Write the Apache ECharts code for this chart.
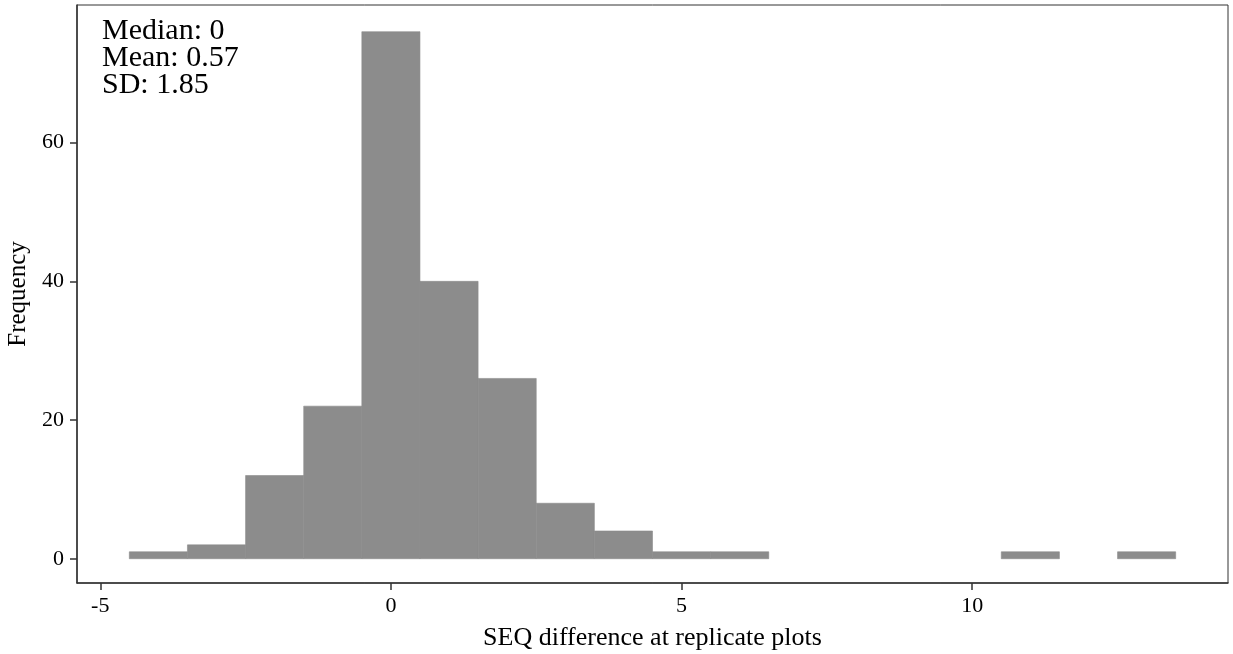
<!DOCTYPE html>
<html>
<head>
<meta charset="utf-8">
<script src="https://cdn.jsdelivr.net/npm/echarts@6/dist/echarts.min.js"></script>
<style>
html,body{margin:0;padding:0;background:#fff;}
#chart{width:1233px;height:654px;}
</style>
</head>
<body>
<div id="chart"></div>
<script>
// Histogram bin centers (bin width 1) and counts
const binCenters = [-4, -3, -2, -1, 0, 1, 2, 3, 4, 5, 6, 7, 8, 9, 10, 11, 12, 13];
const counts     = [ 1,  2, 12, 22, 76, 40, 26, 8, 4, 1, 1, 0, 0, 0, 0, 1, 0, 1];
const binWidth = 1;
const xTicks = [-5, 0, 5, 10];
const yTicks = [0, 20, 40, 60];
const statsLines = ['Median: 0', 'Mean: 0.57', 'SD: 1.85'];
const xTitle = 'SEQ difference at replicate plots';
const yTitle = 'Frequency';

const data = binCenters.map((c, i) => [c, counts[i]]).filter(d => d[1] > 0);

const FONT = '"Liberation Serif", "DejaVu Serif", serif';
const chart = echarts.init(document.getElementById('chart'), null, {renderer: 'canvas'});
chart.setOption({
  animation: false,
  backgroundColor: '#ffffff',
  grid: {left: 77, right: 5, top: 5, bottom: 71, outerBoundsMode: 'none', containLabel: false,
         show: true, borderColor: '#333333', borderWidth: 1, backgroundColor: '#ffffff'},
  xAxis: {
    type: 'value', min: -5.4, max: 14.4,
    name: xTitle, nameLocation: 'middle', nameGap: 42,
    nameTextStyle: {fontFamily: FONT, fontSize: 26, color: '#000'},
    axisLine: {show: true, onZero: false, lineStyle: {color: '#333333', width: 1.5}},
    axisTick: {show: true, length: 7, customValues: xTicks, lineStyle: {color: '#333333', width: 1.5}},
    axisLabel: {customValues: xTicks, fontFamily: FONT, fontSize: 22, color: '#000', margin: 12},
    splitLine: {show: false}
  },
  yAxis: {
    type: 'value', min: -3.5, max: 79.85,
    name: yTitle, nameLocation: 'middle', nameGap: 42,
    nameTextStyle: {fontFamily: FONT, fontSize: 25, color: '#000'},
    axisLine: {show: true, onZero: false, lineStyle: {color: '#333333', width: 1.5}},
    axisTick: {show: true, length: 7, customValues: yTicks, lineStyle: {color: '#333333', width: 1.5}},
    axisLabel: {customValues: yTicks, fontFamily: FONT, fontSize: 22, color: '#000', margin: 13},
    splitLine: {show: false}
  },
  graphic: [{
    type: 'text', left: 102, top: 16,
    style: {text: statsLines.join('\n'), font: '30px ' + FONT, lineHeight: 27, fill: '#000'}
  }],
  series: [{
    type: 'custom',
    data: data,
    renderItem: function (params, api) {
      const c = api.value(0), v = api.value(1);
      const p0 = api.coord([c - binWidth / 2, 0]);
      const p1 = api.coord([c + binWidth / 2, v]);
      return {
        type: 'rect',
        shape: {x: p0[0], y: p1[1], width: p1[0] - p0[0], height: p0[1] - p1[1]},
        style: {fill: '#8c8c8c', stroke: '#8c8c8c', lineWidth: 0.6}
      };
    },
    encode: {x: 0, y: 1}
  }]
});
</script>
</body>
</html>
